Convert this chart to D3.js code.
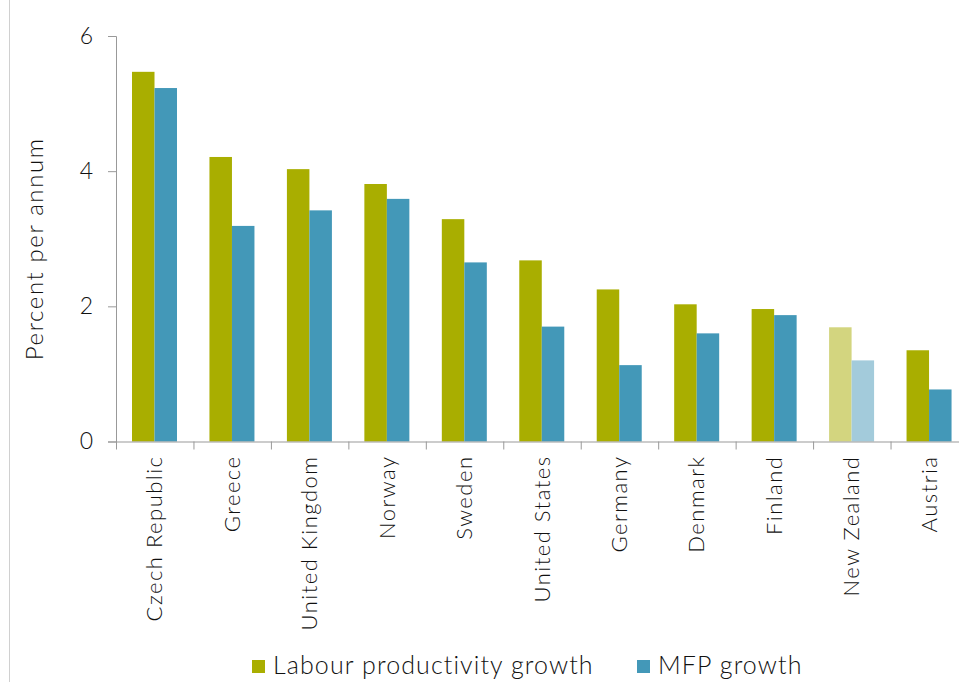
<!DOCTYPE html>
<html><head><meta charset="utf-8"/>
<script src="https://cdn.jsdelivr.net/npm/d3@7"></script>
<style>
  body { margin: 0; background: #fff; }
  text { font-family: Lato, "Open Sans", sans-serif; fill: #111; font-weight: 300; }
</style>
</head>
<body>
<div id="chart"></div>
<script>
// Data
const countries = ["Czech Republic", "Greece", "United Kingdom", "Norway", "Sweden",
  "United States", "Germany", "Denmark", "Finland", "New Zealand", "Austria"];
const labourGrowth = [5.47, 4.21, 4.03, 3.81, 3.29, 2.68, 2.25, 2.03, 1.96, 1.69, 1.35];
const mfpGrowth = [5.23, 3.19, 3.42, 3.59, 2.65, 1.70, 1.13, 1.60, 1.87, 1.20, 0.77];
const seriesNames = ["Labour productivity growth", "MFP growth"];
const yTicks = [0, 2, 4, 6];
const highlight = "New Zealand";

const W = 959, H = 682;
const colors = { "Labour productivity growth": "#a9ae00", "MFP growth": "#4398b8" };
const lightColors = { "Labour productivity growth": "#d3d57f", "MFP growth": "#a3cbdb" };

const svg = d3.select("#chart").append("svg").attr("width", W).attr("height", H);

// faint frame line on the left
svg.append("line").attr("x1", 9.5).attr("x2", 9.5).attr("y1", 0).attr("y2", H)
  .attr("stroke", "#d0d0d0");

const mLeft = 116, mRight = 968, mTop = 36, mBottom = 441.5;

const x0 = d3.scaleBand().domain(countries).range([mLeft, mRight]).padding(0);
const x1 = d3.scaleBand().domain(seriesNames).range([16, 61]);
const y = d3.scaleLinear().domain([0, 6]).range([mBottom, mTop]);

const rows = countries.map((c, i) => ({ country: c, values: [labourGrowth[i], mfpGrowth[i]] }));

const g = svg.append("g");
g.selectAll("g.grp").data(rows).join("g").attr("class", "grp")
  .attr("transform", d => `translate(${x0(d.country)},0)`)
  .selectAll("rect").data(d => d.values.map((v, j) => ({ s: seriesNames[j], v, c: d.country })))
  .join("rect")
  .attr("x", d => x1(d.s))
  .attr("width", x1.bandwidth())
  .attr("y", d => y(d.v))
  .attr("height", d => y(0) - y(d.v))
  .attr("fill", d => d.c === highlight ? lightColors[d.s] : colors[d.s]);

// y axis
const yAxis = svg.append("g").attr("transform", `translate(${mLeft},0)`)
  .call(d3.axisLeft(y).tickValues(yTicks).tickSize(8).tickPadding(15).tickFormat(d3.format("d")));
yAxis.select(".domain").attr("stroke", "#999");
yAxis.selectAll(".tick line").attr("stroke", "#999");
yAxis.selectAll("text").attr("font-size", 23).attr("fill", "#111")
  .style("font-family", "Lato, sans-serif").style("font-weight", 300);

// x axis
const xAxis = svg.append("g").attr("transform", `translate(0,${mBottom})`)
  .call(d3.axisBottom(x0).tickSize(0).tickFormat(""));
xAxis.select(".domain").attr("stroke", "#999");
// boundary ticks between categories
svg.append("g").selectAll("line").data(countries).join("line")
  .attr("x1", d => x0(d) + 0.5).attr("x2", d => x0(d) + 0.5)
  .attr("y1", mBottom).attr("y2", mBottom + 8).attr("stroke", "#999");

// rotated category labels
svg.append("g").selectAll("text").data(countries).join("text")
  .attr("transform", d => `translate(${x0(d) + x0.bandwidth() / 2 + 7.5},${mBottom + 14}) rotate(-90)`)
  .attr("text-anchor", "end")
  .attr("font-size", 22)
  .attr("letter-spacing", 1.5)
  .text(d => d);

// y label
svg.append("text")
  .attr("transform", `translate(43,${(mTop + mBottom) / 2 + 10}) rotate(-90)`)
  .attr("text-anchor", "middle")
  .attr("font-size", 24)
  .attr("letter-spacing", 1.6)
  .text("Percent per annum");

// legend
const legend = svg.append("g").attr("transform", "translate(252,666)");
const legendX = [0, 385];
seriesNames.forEach((s, i) => {
  const lg = legend.append("g").attr("transform", `translate(${legendX[i]},0)`);
  lg.append("rect").attr("x", 0).attr("y", -6).attr("width", 13).attr("height", 13).attr("fill", colors[s]);
  lg.append("text").attr("x", 21).attr("y", 8).attr("font-size", 25)
    .attr("letter-spacing", 1.1).text(s);
});
</script>
</body></html>
